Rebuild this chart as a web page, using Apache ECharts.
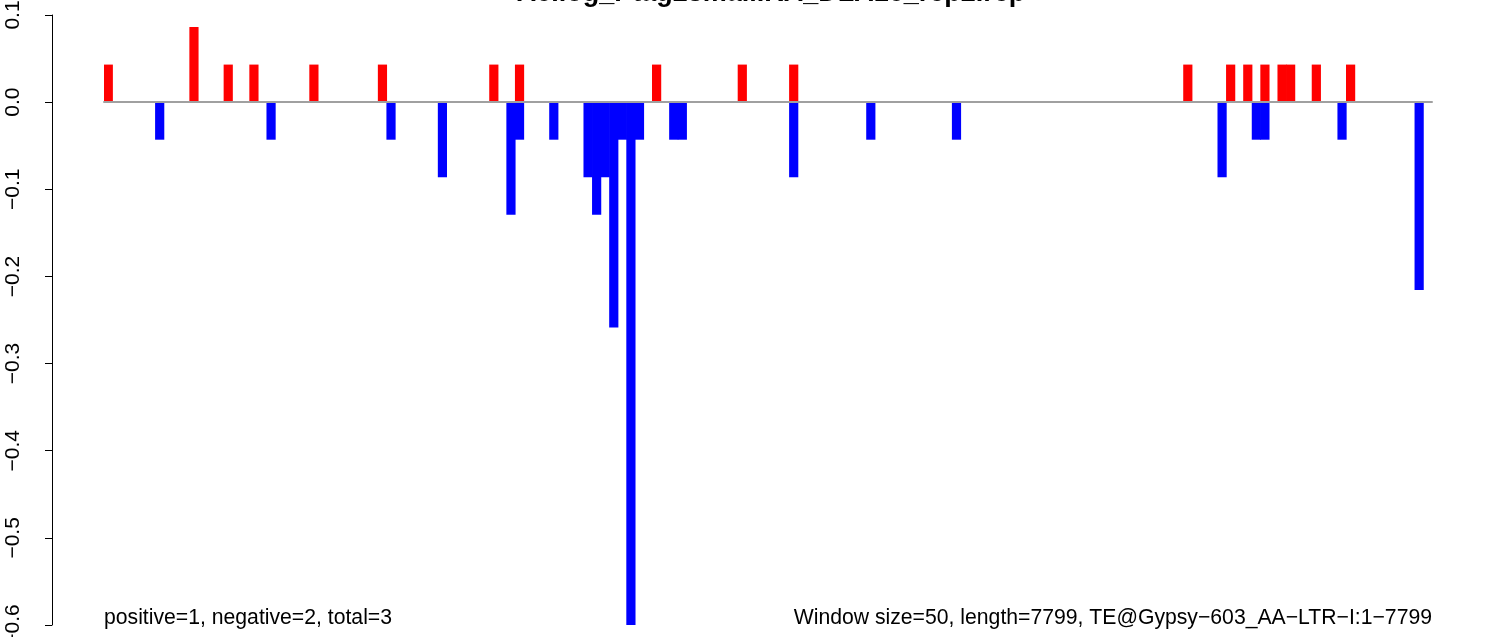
<!DOCTYPE html>
<html>
<head>
<meta charset="utf-8">
<script src="https://cdn.jsdelivr.net/npm/echarts@6/dist/echarts.min.js"></script>
<style>
html,body{margin:0;padding:0;background:#fff;}
#chart{width:1506px;height:637px;}
</style>
</head>
<body>
<div id="chart"></div>
<script>
// ---- data ----
var windowSize = 50;
var windowCount = 155;
var titleText = 'Ac.log_Ptag2small.RA_DLA16_rep2.rep';
var leftNote = 'positive=1, negative=2, total=3';
var rightNote = 'Window size=50, length=7799, TE@Gypsy\u2212603_AA\u2212LTR\u2212I:1\u22127799';
var yTicks = [0.1, 0.0, -0.1, -0.2, -0.3, -0.4, -0.5, -0.6];

// positive (sense) windows and values
var posWindows = [0, 10, 14, 17, 24, 32, 45, 48, 64, 74, 80, 126, 131, 133, 135, 137, 138, 141, 145];
var posValues  = [0.0431, 0.0862, 0.0431, 0.0431, 0.0431, 0.0431, 0.0431, 0.0431, 0.0431, 0.0431, 0.0431,
                  0.0431, 0.0431, 0.0431, 0.0431, 0.0431, 0.0431, 0.0431, 0.0431];

// negative (antisense) windows and values
var negWindows = [6, 19, 33, 39, 47, 48, 52, 56, 57, 58, 59, 60, 61, 62, 66, 67, 80, 89, 99, 130, 134, 135, 144, 153];
var negValues  = [-0.0431, -0.0431, -0.0431, -0.0862, -0.1293, -0.0431, -0.0431, -0.0862, -0.1293, -0.0862,
                  -0.2586, -0.0431, -0.6034, -0.0431, -0.0431, -0.0431, -0.0862, -0.0431, -0.0431, -0.0862,
                  -0.0431, -0.0431, -0.0431, -0.2155];

// ---- build tables ----
var categories = [];
var posData = [];
var negData = [];
for (var i = 0; i < windowCount; i++) {
  categories.push(String(i * windowSize + 1));
  posData.push('-');
  negData.push('-');
}
posWindows.forEach(function (w, k) { posData[w] = posValues[k]; });
negWindows.forEach(function (w, k) { negData[w] = negValues[k]; });

var chart = echarts.init(document.getElementById('chart'), null, {renderer: 'canvas'});
var FONT = 'Liberation Sans, Arial, Helvetica, sans-serif';

chart.setOption({
  animation: false,
  backgroundColor: '#ffffff',
  title: {
    text: titleText,
    left: 766,
    textAlign: 'center',
    top: -25,
    textStyle: {fontFamily: FONT, fontSize: 27, fontWeight: 'bold', color: '#000'}
  },
  grid: {left: 104, right: 74, top: 15, bottom: 12, containLabel: false, outerBoundsMode: 'none'},
  xAxis: {
    type: 'category',
    data: categories,
    z: 5,
    axisLine: {show: true, onZero: true, lineStyle: {color: '#a0a0a0', width: 2}},
    axisTick: {show: false},
    axisLabel: {show: false},
    splitLine: {show: false}
  },
  yAxis: {
    type: 'value',
    min: yTicks[yTicks.length - 1],
    max: yTicks[0],
    interval: 0.1,
    offset: 52,
    axisLine: {show: true, lineStyle: {color: '#000', width: 1}},
    axisTick: {show: true, length: 7, lineStyle: {color: '#000', width: 1}},
    splitLine: {show: false},
    axisLabel: {
      rotate: 90,
      margin: 28,
      fontFamily: FONT,
      fontSize: 21,
      color: '#000',
      formatter: function (v) { return v.toFixed(1).replace('-', '\u2212'); }
    }
  },
  series: [
    {
      name: 'positive',
      type: 'bar',
      data: posData,
      barWidth: 9.2,
      barGap: '-100%',
      itemStyle: {color: '#ff0000'},
      clip: true
    },
    {
      name: 'negative',
      type: 'bar',
      data: negData,
      barWidth: 9.2,
      barGap: '-100%',
      itemStyle: {color: '#0000ff'},
      clip: true
    }
  ],
  graphic: [
    {
      type: 'text',
      left: 104,
      top: 608,
      style: {text: leftNote, font: '21.2px ' + FONT, fill: '#000'}
    },
    {
      type: 'text',
      right: 74,
      top: 608,
      style: {text: rightNote, font: '21.2px ' + FONT, fill: '#000'}
    }
  ]
});
</script>
</body>
</html>
